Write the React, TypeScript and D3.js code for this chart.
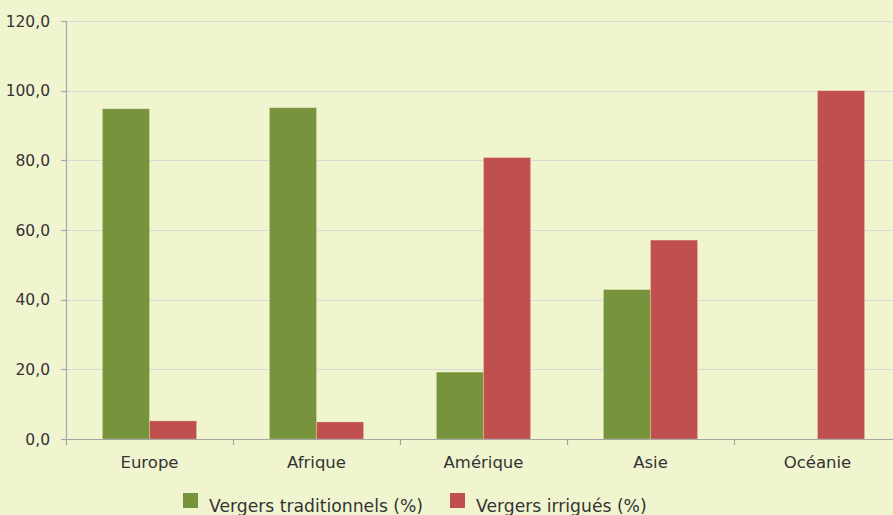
import { useMemo } from "react";
import * as d3 from "d3";

const categories = ["Europe", "Afrique", "Amérique", "Asie", "Océanie"];
const traditionnels = [94.8, 95.1, 19.2, 42.9, 0];
const irrigues = [5.2, 4.9, 80.8, 57.1, 100];
const yTicks = [0, 20, 40, 60, 80, 100, 120];
const seriesNames = ["Vergers traditionnels (%)", "Vergers irrigués (%)"];
const seriesColors = ["#77933C", "#C0504D"];

const width = 893;
const height = 515;
const margin = { top: 21, right: -8, bottom: 76, left: 66 };
const font = "'DejaVu Sans', sans-serif";

export default function App() {
  const x = useMemo(
    () =>
      d3
        .scaleBand<string>()
        .domain(categories)
        .range([margin.left, width - margin.right])
        .paddingInner(0)
        .paddingOuter(0),
    []
  );
  const y = useMemo(
    () => d3.scaleLinear().domain([0, 120]).range([height - margin.bottom, margin.top]),
    []
  );

  const bw = x.bandwidth();
  const barW = bw * 0.282;
  const gap = (bw - barW * 2) / 2;
  const fmt = (v: number) => v.toFixed(1).replace(".", ",");

  return (
    <div style={{ position: "absolute", left: 0, top: 0 }}>
      <svg width={width} height={height} style={{ display: "block", background: "#F1F5CF" }}>
        {/* gridlines */}
        {yTicks.slice(1).map((t) => (
          <line
            key={t}
            x1={margin.left}
            x2={width}
            y1={Math.round(y(t)) + 0.5}
            y2={Math.round(y(t)) + 0.5}
            stroke="#D9D9D9"
            strokeWidth={1.2}
          />
        ))}

        {/* bars */}
        {categories.map((c, i) => {
          const x0 = (x(c) ?? 0) + gap;
          return (
            <g key={c}>
              {[traditionnels[i], irrigues[i]].map((v, j) =>
                v > 0 ? (
                  <rect
                    key={j}
                    x={x0 + j * barW}
                    y={y(v)}
                    width={barW}
                    height={y(0) - y(v)}
                    fill={seriesColors[j]}
                    stroke="#F1F5CF"
                    strokeOpacity={0.35}
                    strokeWidth={0.8}
                  />
                ) : null
              )}
            </g>
          );
        })}

        {/* y axis */}
        <line
          x1={margin.left + 0.5}
          x2={margin.left + 0.5}
          y1={y(120)}
          y2={y(0)}
          stroke="#A6A6A6"
          strokeWidth={1.2}
        />
        {yTicks.map((t) => (
          <g key={t}>
            <line
              x1={margin.left - 5}
              x2={margin.left}
              y1={Math.round(y(t)) + 0.5}
              y2={Math.round(y(t)) + 0.5}
              stroke="#A6A6A6"
              strokeWidth={1.2}
            />
            <text
              x={50}
              y={y(t)}
              dy="0.36em"
              textAnchor="end"
              fontFamily={font}
              fontSize={15.5}
              fill="#333"
            >
              {fmt(t)}
            </text>
          </g>
        ))}

        {/* x axis */}
        <line
          x1={margin.left}
          x2={width}
          y1={Math.round(y(0)) + 0.5}
          y2={Math.round(y(0)) + 0.5}
          stroke="#A6A6A6"
          strokeWidth={1.2}
        />
        {categories.map((c) => (
          <g key={c}>
            <line
              x1={(x(c) ?? 0) + 0.5}
              x2={(x(c) ?? 0) + 0.5}
              y1={y(0)}
              y2={y(0) + 6}
              stroke="#A6A6A6"
              strokeWidth={1.2}
            />
            <text
              x={(x(c) ?? 0) + bw / 2}
              y={468}
              textAnchor="middle"
              fontFamily={font}
              fontSize={16.5}
              fill="#333"
            >
              {c}
            </text>
          </g>
        ))}

        {/* legend */}
        {seriesNames.map((n, i) => {
          const lx = i === 0 ? 183 : 450;
          return (
            <g key={n}>
              <rect x={lx} y={493} width={15} height={15} fill={seriesColors[i]} />
              <text x={lx + 26} y={512} fontFamily={font} fontSize={17.2} fill="#333">
                {n}
              </text>
            </g>
          );
        })}
      </svg>
    </div>
  );
}
